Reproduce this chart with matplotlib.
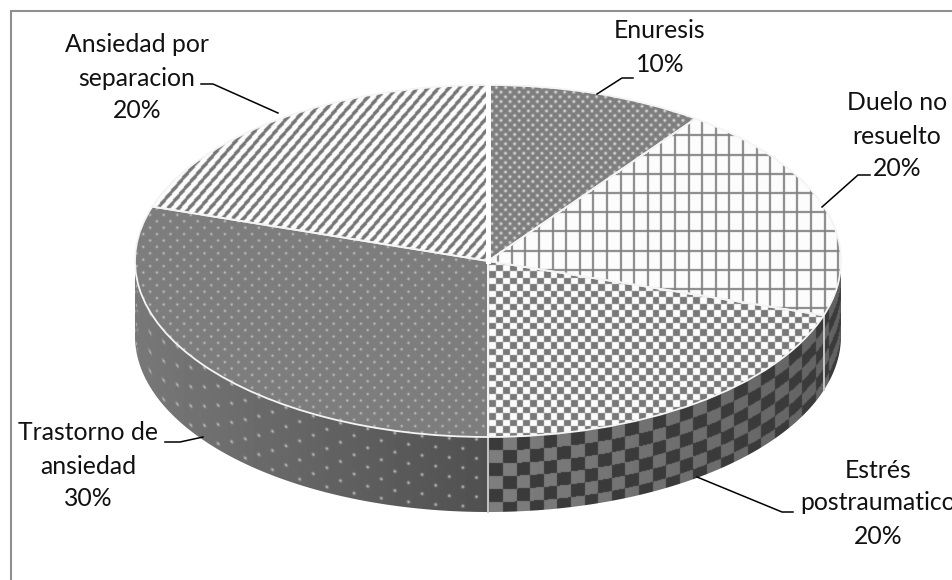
import numpy as np
import matplotlib
matplotlib.use("Agg")
import matplotlib.pyplot as plt
from matplotlib.patches import Polygon

categories = ["Enuresis", "Duelo no\nresuelto", "Estrés\npostraumatico", "Trastorno de\nansiedad", "Ansiedad por\nseparacion"]
values = [10, 20, 20, 30, 20]
label_xy = [(660, 31), (897, 103), (878, 470), (88, 433), (137, 45)]
leaders = [
    [(633, 78), (622, 78), (597, 94)],
    [(870, 175), (858, 175), (822, 207)],
    [(793, 512), (782, 512), (697, 477)],
    [(165, 442), (180, 442), (203, 437)],
    [(201, 84), (213, 84), (278, 113)],
]

W, H = 952, 580
CX, CY, RX, RY, DEPTH = 488, 261, 353, 176, 75

plt.rcParams["font.family"] = ["Lato", "DejaVu Sans"]
fig = plt.figure(figsize=(W / 100, H / 100), dpi=100, facecolor="white")
ax = fig.add_axes([0, 0, 1, 1])

wedges, _ = ax.pie(values, startangle=90, counterclock=False, radius=1,
                   wedgeprops=dict(edgecolor="#f4f4f4", linewidth=1.3, facecolor="none", zorder=5))
ax.set_aspect("auto")
xlim = ((0 - CX) / RX, (W - CX) / RX)
ylim = ((CY - H) / RY, CY / RY)
ext = [xlim[0], xlim[1], ylim[0], ylim[1]]

py, px = np.mgrid[0:H, 0:W].astype(float)


def blur(a):
    out = a.copy() * 4
    for s, ax_ in [(1, 0), (-1, 0), (1, 1), (-1, 1)]:
        out += np.roll(a, s, axis=ax_)
    return out / 8


def dots(u, v, dx, dy, r):
    row = np.floor(v / dy)
    uu = u + (row % 2) * dx / 2
    du = (uu % dx) - dx / 2
    dv = (v % dy) - dy / 2
    return np.exp(-(du ** 2 + dv ** 2) / (2 * r ** 2))


def checker(u, v, cx, cy):
    return (np.floor(u / cx) + np.floor(v / cy)) % 2


GREY = 125.0
pat_enuresis = GREY + (245 - GREY) * dots(px, py, 9.1, 4.7, 0.95)
vl = ((px - 701.7 + 1) % 13.6) < 2
hl = ((py - 135 + 1) % 19.2) < 2
pat_duelo = np.where(vl | hl, 128.0, 252.0)
pat_estres = np.where(checker(px - 489, py, 6.8, 6.45) > 0, 252.0, 120.0)
pat_trast = GREY + (215 - GREY) * dots(px, py, 13.6, 6.4, 0.75)
pat_ansied = np.where(((px + 0.85 * py) / 10.5) % 1 < 0.58, 252.0, 118.0)
tops = [pat_enuresis, pat_duelo, pat_estres, pat_trast, pat_ansied]

# side faces follow the front rim of the disc
rim = CY + RY * np.sqrt(np.clip(1 - ((px - CX) / RX) ** 2, 0, 1))
v_side = py - rim
t = (px - 135) / 353.0
dark_grad = 120 - 40 * np.clip(t, 0, 1)
light = 126 - 28 * np.clip((px - 489) / 350, 0, 1)
dark = 58 + 0 * px
side_check = np.where(checker(px - 489, v_side, 13.6, 12.9) > 0, light, dark)
side_trast = dark_grad + (205 - dark_grad) * dots(px, v_side + 3, 27.2, 9.6, 0.95)
sides = {1: side_check, 2: side_check, 3: side_trast}

# side faces
bounds = np.cumsum([0] + values) / sum(values) * 2 * np.pi
for i, (a0, a1) in enumerate(zip(bounds[:-1], bounds[1:])):
    lo, hi = max(a0, np.pi / 2), min(a1, 1.5 * np.pi)
    if hi <= lo:
        continue
    th = np.linspace(lo, hi, 200)
    x, y = np.sin(th), np.cos(th)
    d = DEPTH / RY
    verts = np.r_[np.c_[x, y], np.c_[x, y - d][::-1]]
    poly = Polygon(verts, closed=True, facecolor="none", edgecolor="none", transform=ax.transData)
    ax.add_patch(poly)
    im = ax.imshow(blur(sides[i]), extent=ext, origin="upper", cmap="gray", vmin=0, vmax=255,
                   aspect="auto", interpolation="nearest", zorder=2)
    im.set_clip_path(poly)
    for th0 in (a0, a1):
        if np.pi / 2 < th0 < 1.5 * np.pi:
            sx, sy = np.sin(th0), np.cos(th0)
            ax.plot([sx, sx], [sy, sy - d], color="#c8c8c8", lw=1.1, zorder=3)

# top faces
for w, pat in zip(wedges, tops):
    im = ax.imshow(blur(pat), extent=ext, origin="upper", cmap="gray", vmin=0, vmax=255,
                   aspect="auto", interpolation="nearest", zorder=4)
    im.set_clip_path(w)

# wider gap where the first and last slices meet
ax.plot([0, 0], [0, 1], color="white", lw=3.6, zorder=6)

ax.set_xlim(*xlim)
ax.set_ylim(*ylim)
ax.axis("off")

# overlay in pixel coordinates for frame, leaders and labels
ov = fig.add_axes([0, 0, 1, 1], facecolor="none")
ov.set_xlim(0, W)
ov.set_ylim(H, 0)
ov.axis("off")
ov.plot([10.5, 10.5, W], [H, 10.5, 10.5], color="#8f8f8f", lw=1.5, solid_joinstyle="miter")

LINE = 33
for cat, val, (lx, ly), seg in zip(categories, values, label_xy, leaders):
    lines = cat.split("\n") + [f"{val}%"]
    for k, s in enumerate(lines):
        ov.text(lx, ly + k * LINE, s, ha="center", va="center", fontsize=17.8, color="#111111")
    xs, ys = zip(*seg)
    ov.plot(xs, ys, color="black", lw=1.1)

fig.savefig("out.png", dpi=100, facecolor="white")
